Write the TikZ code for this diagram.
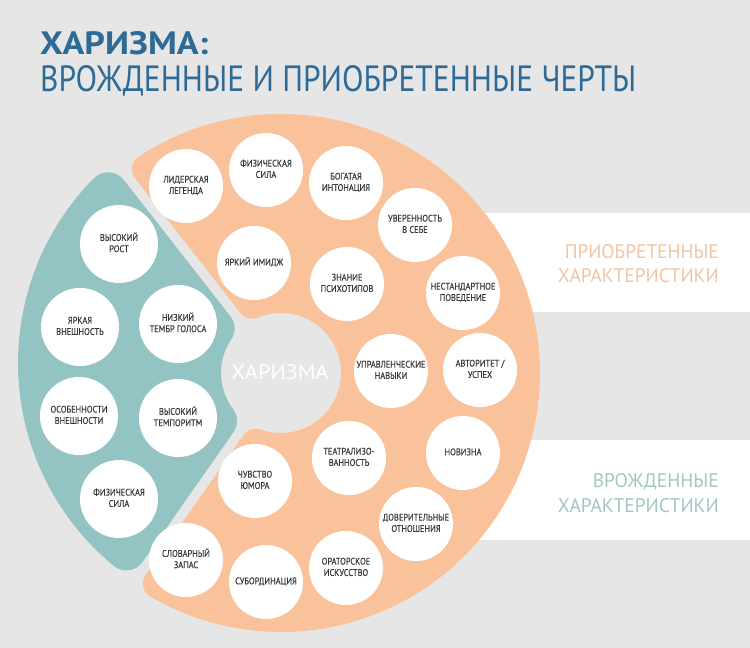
\documentclass[tikz,border=0pt]{standalone}
\usepackage{fontspec}
\setmainfont{PT Sans}
\newfontfamily\bubfont{PT Sans}[FakeBold=0.35]
\usepackage{graphicx}
\usetikzlibrary{calc}
\definecolor{bgc}{HTML}{E6E6E6}
\definecolor{orangec}{HTML}{F9C29B}
\definecolor{tealc}{HTML}{93C4C3}
\definecolor{titleblue}{HTML}{2E6A96}
\definecolor{acqc}{HTML}{EFC6A6}
\definecolor{innc}{HTML}{A3C6C4}
\definecolor{bubtext}{HTML}{383838}
\newcommand\bt[1]{\scalebox{0.87}[1]{\begin{tabular}{@{}c@{}}#1\end{tabular}}}
\begin{document}
\begin{tikzpicture}[x=1pt,y=1pt,
  bubble/.style={circle,fill=white,inner sep=0pt,align=center,text=bubtext,font=\bubfont\fontsize{9.6}{11.3}\selectfont},
  tbub/.style={bubble,minimum size=78pt},
  obub/.style={bubble,minimum size=74pt},
  lbl/.style={inner sep=0pt,anchor=base east}]
\useasboundingbox (0,0) rectangle (750,648);
\fill[bgc] (0,0) rectangle (750,648);
\coordinate (C) at (281,275);
\coordinate (Ct) at (281,285);
% white bands
\fill[white] (420,336) rectangle (750,435);
\fill[white] (420,108) rectangle (750,208);
% ring pieces
\filldraw[orangec, line width=30pt, line join=round]
  ($(C)+(123.30:244)$) arc[start angle=123.30,end angle=-120.30,radius=244]
  -- ($(C)+(-109.53:75)$) arc[start angle=-109.53,end angle=112.53,radius=75] -- cycle;
\filldraw[tealc, line width=40pt, line join=round]
  ($(Ct)+(135.37:243)$) arc[start angle=135.37,end angle=230.45,radius=243]
  -- ($(C)+(216.80:80)$) arc[start angle=216.80,end angle=146.20,radius=80] -- cycle;
% centre label
\node[inner sep=0pt,anchor=base,text=white] (center) at (280,268) {\resizebox{97pt}{15pt}{ХАРИЗМА}};
% title
\node[inner sep=0pt,anchor=base west,text=titleblue] (title1) at (40,593) {\resizebox{168pt}{23pt}{\bfseries ХАРИЗМА:}};
\node[inner sep=0pt,anchor=base west,text=titleblue] (title2) at (40,556) {\resizebox{596pt}{26pt}{ВРОЖДЕННЫЕ И ПРИОБРЕТЕННЫЕ ЧЕРТЫ}};
% right labels
\node[lbl,text=acqc] (acq1) at (719,389) {\resizebox{154pt}{14pt}{ПРИОБРЕТЕННЫЕ}};
\node[lbl,text=acqc] (acq2) at (719,365) {\resizebox{161pt}{14pt}{ХАРАКТЕРИСТИКИ}};
\node[lbl,text=innc] (inn1) at (719,160) {\resizebox{126pt}{14pt}{ВРОЖДЕННЫЕ}};
\node[lbl,text=innc] (inn2) at (719,135) {\resizebox{161pt}{14pt}{ХАРАКТЕРИСТИКИ}};
% teal bubbles
\node[tbub] (t1) at (119,404) {\bt{ВЫСОКИЙ\\РОСТ}};
\node[tbub] (t2) at (80,321) {\bt{ЯРКАЯ\\ВНЕШНОСТЬ}};
\node[tbub] (t3) at (178,324) {\bt{НИЗКИЙ\\ТЕМБР ГОЛОСА}};
\node[tbub] (t4) at (79,232) {\bt{ОСОБЕННОСТИ\\ВНЕШНОСТИ}};
\node[tbub] (t5) at (178,230) {\bt{ВЫСОКИЙ\\ТЕМПОРИТМ}};
\node[tbub] (t6) at (119,149) {\bt{ФИЗИЧЕСКАЯ\\СИЛА}};
% orange bubbles
\node[obub] (o1) at (186,462) {\bt{ЛИДЕРСКАЯ\\ЛЕГЕНДА}};
\node[obub] (o2) at (266,478) {\bt{ФИЗИЧЕСКАЯ\\СИЛА}};
\node[obub] (o3) at (346,465) {\bt{БОГАТАЯ\\ИНТОНАЦИЯ}};
\node[obub] (o4) at (415,423) {\bt{УВЕРЕННОСТЬ\\В СЕБЕ}};
\node[obub] (o5) at (254,385) {\bt{ЯРКИЙ ИМИДЖ}};
\node[obub] (o6) at (347,364) {\bt{ЗНАНИЕ\\ПСИХОТИПОВ}};
\node[obub] (o7) at (463,355) {\bt{НЕСТАНДАРТНОЕ\\ПОВЕДЕНИЕ}};
\node[obub] (o8) at (391,277) {\bt{УПРАВЛЕНЧЕСКИЕ\\НАВЫКИ}};
\node[obub] (o9) at (480,278) {\bt{АВТОРИТЕТ /\\УСПЕХ}};
\node[obub] (o10) at (349,190) {\bt{ТЕАТРАЛИЗО-\\ВАННОСТЬ}};
\node[obub] (o11) at (463,195) {\bt{НОВИЗНА}};
\node[obub] (o12) at (416,124) {\bt{ДОВЕРИТЕЛЬНЫЕ\\ОТНОШЕНИЯ}};
\node[obub] (o13) at (346,80) {\bt{ОРАТОРСКОЕ\\ИСКУССТВО}};
\node[obub] (o14) at (266,66) {\bt{СУБОРДИНАЦИЯ}};
\node[obub] (o15) at (186,88) {\bt{СЛОВАРНЫЙ\\ЗАПАС}};
\node[obub] (o16) at (255,167) {\bt{ЧУВСТВО\\ЮМОРА}};
\end{tikzpicture}
\end{document}
